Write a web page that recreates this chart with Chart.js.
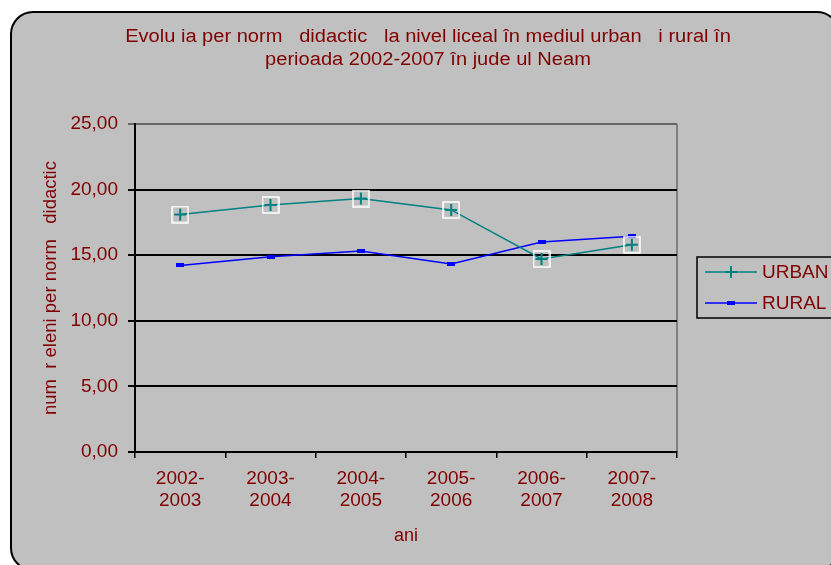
<!DOCTYPE html>
<html lang="ro">
<head>
  <meta charset="UTF-8">
  <title>Evolutia per norma didactica</title>
  <script src="https://cdn.jsdelivr.net/npm/chart.js"></script>
  <style>
    html, body { margin: 0; padding: 0; background: #fff; }
    #wrap { width: 831px; height: 565px; }
  </style>
</head>
<body>
  <div id="wrap"><canvas id="normChart" width="831" height="565"></canvas></div>

  <script>
    // date
    const ani = [['2002-', '2003'], ['2003-', '2004'], ['2004-', '2005'], ['2005-', '2006'], ['2006-', '2007'], ['2007-', '2008']];
    const urban = [18.10, 18.83, 19.32, 18.45, 14.71, 15.80];
    const rural = [14.22, 14.88, 15.32, 14.33, 16.01, 16.44];
    const yTicks = [0, 5, 10, 15, 20, 25];
    const titlu = ['Evolu ia per norm   didactic   la nivel liceal în mediul urban   i rural în',
                   'perioada 2002-2007 în jude ul Neam'];

    const red = '#800000';
    const font = 'Liberation Sans, Arial, sans-serif';

    // marker URBAN: cruce teal in patrat alb
    function urbanMarker() {
      const c = document.createElement('canvas');
      c.width = 18; c.height = 18;
      const g = c.getContext('2d');
      g.strokeStyle = '#ffffff'; g.lineWidth = 1.5;
      g.strokeRect(1, 1, 16, 16);
      g.strokeStyle = '#008080'; g.lineWidth = 2;
      g.beginPath();
      g.moveTo(3, 9); g.lineTo(15, 9);
      g.moveTo(9, 3); g.lineTo(9, 15);
      g.stroke();
      return c;
    }
    function ruralMarker() {
      const c = document.createElement('canvas');
      c.width = 8; c.height = 4;
      const g = c.getContext('2d');
      g.fillStyle = '#0000ff';
      g.fillRect(0, 0, 8, 4);
      return c;
    }

    const frame = {
      id: 'frame',
      beforeDraw(chart) {
        const ctx = chart.ctx;
        ctx.save();
        ctx.fillStyle = '#c0c0c0';
        ctx.strokeStyle = '#000';
        ctx.lineWidth = 2;
        ctx.beginPath();
        ctx.roundRect(11, 12, 828, 558, 22);
        ctx.fill();
        ctx.stroke();
        const a = chart.chartArea;
        ctx.strokeStyle = '#808080';
        ctx.lineWidth = 2;
        ctx.beginPath();
        ctx.moveTo(a.right, a.top);
        ctx.lineTo(a.right, a.bottom);
        ctx.stroke();

        // titlul, usor latit pe orizontala ca in original
        ctx.fillStyle = red;
        ctx.font = '18px ' + font;
        ctx.textAlign = 'center';
        ctx.textBaseline = 'middle';
        titlu.forEach((t, i) => {
          ctx.save();
          ctx.translate(428, 37 + i * 23);
          ctx.scale(1.115, 1);
          ctx.fillText(t, 0, 0);
          ctx.restore();
        });
        ctx.restore();
      },
      afterDraw(chart) {
        // legenda
        const ctx = chart.ctx;
        ctx.save();
        ctx.fillStyle = '#c0c0c0';
        ctx.strokeStyle = '#000';
        ctx.lineWidth = 1.5;
        ctx.fillRect(697, 257, 140, 61);
        ctx.strokeRect(697, 257, 140, 61);
        ctx.font = '19px ' + font;
        ctx.textBaseline = 'middle';
        const rows = [
          { y: 272, ds: chart.data.datasets[0] },
          { y: 303, ds: chart.data.datasets[1] }
        ];
        rows.forEach((r, i) => {
          ctx.strokeStyle = r.ds.borderColor;
          ctx.lineWidth = 1.5;
          ctx.beginPath();
          ctx.moveTo(705, r.y); ctx.lineTo(757, r.y);
          ctx.stroke();
          if (i === 0) {
            ctx.lineWidth = 2;
            ctx.beginPath();
            ctx.moveTo(731, r.y - 6); ctx.lineTo(731, r.y + 6);
            ctx.moveTo(725, r.y); ctx.lineTo(737, r.y);
            ctx.stroke();
          } else {
            ctx.fillStyle = r.ds.borderColor;
            ctx.fillRect(727, r.y - 2, 8, 4);
          }
          ctx.fillStyle = red;
          ctx.fillText(r.ds.label, 762, r.y + 1);
        });
        ctx.restore();
      }
    };

    new Chart(document.getElementById('normChart'), {
      type: 'line',
      data: {
        labels: ani,
        datasets: [
          {
            label: 'URBAN',
            data: urban,
            borderColor: '#008080',
            borderWidth: 1.5,
            pointStyle: urbanMarker(),
            tension: 0
          },
          {
            label: 'RURAL',
            data: rural,
            borderColor: '#0000ff',
            borderWidth: 1.5,
            pointStyle: ruralMarker(),
            tension: 0
          }
        ]
      },
      options: {
        responsive: false,
        animation: false,
        layout: { padding: { left: 0, right: 154, top: 124, bottom: 14 } },
        plugins: {
          legend: { display: false },
          tooltip: { enabled: false },
          title: { display: false }
        },
        scales: {
          x: {
            offset: true,
            grid: {
              offset: true,
              drawOnChartArea: false,
              drawTicks: true,
              tickLength: 6,
              color: '#000',
              lineWidth: 1.5
            },
            border: { display: true, color: '#000', width: 2 },
            ticks: {
              color: red,
              font: { family: font, size: 19, lineHeight: 1.2 },
              padding: 9,
              maxRotation: 0
            },
            title: {
              display: true,
              text: 'ani',
              color: red,
              font: { family: font, size: 18 },
              padding: { top: 6, bottom: 4 }
            },
            afterFit(s) { s.height = 99; }
          },
          y: {
            min: 0,
            max: 25,
            afterBuildTicks(s) { s.ticks = yTicks.map(v => ({ value: v })); },
            grid: {
              color: ctx => ctx.tick && ctx.tick.value === 25 ? '#666' : '#000',
              lineWidth: 2,
              tickLength: 7
            },
            border: { display: true, color: '#000', width: 2 },
            ticks: {
              color: red,
              font: { family: font, size: 19 },
              padding: 10,
              callback: v => v.toFixed(2).replace('.', ',')
            },
            title: {
              display: true,
              text: 'num  r eleni per norm   didactic',
              color: red,
              font: { family: font, size: 18.5 },
              padding: { top: 40, bottom: 0 }
            },
            afterFit(s) { s.width = 135; }
          }
        }
      },
      plugins: [frame]
    });
  </script>
</body>
</html>
